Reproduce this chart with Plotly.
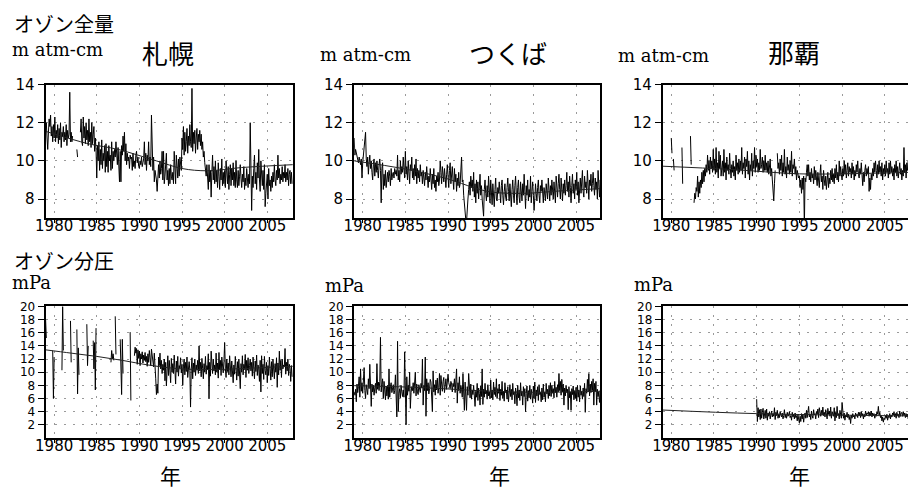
import plotly.graph_objects as go

START_YEAR = 1979

# ---------------- total ozone (m atm-cm), monthly from Jan 1979 ----------------
sapporo_total = [
    11.6, 12.0, 11.2, 10.6, 11.5, 12.2, 11.8, 12.4, 11.3, 11.8, 11.0, 11.9,  # 1979
    11.2, 12.3, 11.0, 11.6, 11.2, 11.9, 10.9, 11.7, 11.1, 12.0, 10.7, 11.5,  # 1980
    11.3, 11.8, 11.0, 11.5, 11.1, 11.9, 10.8, 11.6, 11.2, 11.4, 13.6, 11.0,  # 1981
    11.5, 11.0, 11.3, None, None, None, None, None, 10.6, 10.2, None, None,  # 1982
    None, 11.5, 12.2, 11.0, 10.8, 12.3, 11.2, 11.8, 10.9, 12.0, 11.1, 11.6,  # 1983
    10.8, 12.2, 11.0, 11.5, 10.7, 12.0, 10.9, 11.4, 11.8, 10.5, 11.2, 10.6,  # 1984
    9.1, 10.8, 10.0, 11.0, 9.5, 10.6, 9.8, 11.1, 9.6, 10.4, 10.0, 10.8,      # 1985
    9.4, 10.9, 9.7, 10.5, 9.4, 10.8, 10.0, 10.3, 9.5, 11.0, 9.6, 10.5,       # 1986
    10.0, 10.6, 10.2, 11.0, 10.3, 9.8, 10.7, 9.5, 8.9, 10.5, 8.9, 10.8,      # 1987
    10.3, 11.3, 10.5, 11.5, 10.0, 10.9, 9.8, 10.4, 10.0, 10.2, 9.6, 10.3,    # 1988
    10.1, 10.2, 9.5, 10.4, 9.7, 10.0, 9.6, 10.3, 10.5, 9.9, 10.2, 9.7,       # 1989
    9.6, 10.0, 9.8, 10.2, 9.7, 9.9, 10.1, 11.0, 9.8, 10.4, 9.5, 10.3,        # 1990
    10.0, 11.0, 9.8, 10.2, 9.7, 12.4, 10.5, 9.5, 10.2, 8.9, 9.5, 9.3,        # 1991
    9.0, 8.4, 9.5, 9.8, 9.1, 10.0, 9.3, 9.6, 10.5, 9.0, 10.5, 8.8,          # 1992
    9.2, 9.7, 10.4, 9.0, 9.5, 8.7, 9.6, 8.8, 9.8, 9.2, 9.0, 9.4,            # 1993
    8.8, 10.5, 9.4, 8.8, 10.3, 9.5, 9.1, 10.1, 9.2, 10.2, 9.7, 9.5,         # 1994
    11.2, 10.6, 11.8, 10.3, 11.5, 10.5, 11.0, 11.7, 10.4, 11.3, 10.8, 11.9,  # 1995
    11.0, 10.7, 13.8, 10.5, 11.5, 10.9, 11.6, 10.4, 11.2, 11.7, 10.6, 11.4,  # 1996
    11.0, 11.6, 10.8, 11.4, 10.6, 11.0, 10.2, 10.5, 9.9, 9.6, 9.2, 9.8,      # 1997
    9.0, 8.5, 9.8, 8.9, 9.5, 8.1, 9.4, 10.3, 9.0, 9.7, 8.8, 10.0,           # 1998
    8.9, 9.5, 8.6, 9.9, 9.2, 8.5, 9.6, 9.0, 10.1, 8.7, 9.4, 8.8,            # 1999
    9.5, 8.6, 10.0, 9.1, 8.8, 9.7, 8.5, 9.3, 9.8, 8.7, 9.6, 9.0,            # 2000
    9.9, 8.7, 9.4, 8.6, 10.0, 9.0, 8.6, 9.5, 8.7, 9.2, 9.8, 9.1,            # 2001
    8.6, 9.3, 8.9, 9.7, 8.5, 9.1, 8.7, 9.6, 9.0, 8.6, 9.3, 8.8,             # 2002
    12.0, 8.9, 7.4, 9.2, 8.6, 9.6, 10.3, 8.8, 9.4, 8.5, 9.9, 9.1,           # 2003
    10.6, 9.0, 8.4, 10.0, 9.2, 8.7, 9.5, 8.5, 9.8, 7.6, 8.3, 8.9,           # 2004
    9.3, 8.0, 9.6, 8.7, 9.0, 8.4, 9.2, 8.6, 9.4, 8.9, 9.8, 9.0,             # 2005
    8.7, 9.5, 9.0, 10.3, 9.1, 9.6, 8.8, 9.3, 9.0, 9.7, 8.9, 9.4,            # 2006
    9.1, 9.8, 8.9, 9.4, 9.0, 9.6, 8.7, 9.3, 9.5, 8.8, 9.4, 8.8,             # 2007
]

tsukuba_total = [
    11.2, 10.3, 10.6, 10.4, 10.2, 10.1, 9.9, 10.2, 10.0, 9.8, 10.1, 9.1,    # 1979
    9.9, 10.4, 10.8, 11.0, 11.5, 10.1, 9.7, 10.2, 9.3, 9.9, 10.3, 9.6,      # 1980
    10.0, 9.4, 9.0, 9.8, 10.1, 9.2, 9.9, 9.4, 10.0, 9.5, 9.1, 9.8,         # 1981
    10.1, 9.5, 7.8, 9.6, 9.9, 8.5, 9.3, 8.7, 9.5, 8.6, 9.0, 9.4,           # 1982
    8.9, 9.5, 9.2, 8.7, 9.6, 9.0, 9.3, 9.4, 9.1, 9.6, 9.3, 9.5,            # 1983
    9.2, 10.3, 9.0, 9.5, 8.9, 10.0, 9.3, 9.7, 9.4, 10.2, 9.6, 9.1,         # 1984
    10.5, 9.3, 9.7, 9.0, 10.0, 9.4, 8.8, 9.8, 9.5, 10.2, 9.1, 9.6,         # 1985
    9.0, 9.8, 9.2, 10.1, 8.8, 9.6, 9.1, 9.5, 8.9, 9.8, 9.2, 9.4,           # 1986
    8.8, 9.5, 9.1, 8.7, 9.4, 9.0, 9.7, 9.3, 8.6, 9.2, 8.9, 9.6,            # 1987
    9.1, 8.5, 9.3, 8.8, 9.6, 8.6, 9.0, 8.4, 9.2, 8.9, 9.4, 8.7,            # 1988
    9.0, 10.0, 9.4, 8.8, 9.7, 9.2, 8.9, 9.6, 9.0, 8.6, 9.3, 9.8,           # 1989
    9.2, 8.6, 9.5, 9.9, 8.8, 9.4, 9.7, 9.0, 8.5, 9.6, 8.9, 9.3,            # 1990
    8.4, 9.1, 8.7, 9.4, 8.6, 8.8, 9.3, 10.2, 8.9, 9.0, 8.2, 7.6,           # 1991
    7.4, 6.9, 6.8, 7.2, 8.0, 8.5, 8.9, 8.2, 9.2, 8.6, 9.0, 8.4,            # 1992
    9.4, 8.1, 8.8, 7.8, 9.0, 8.3, 8.9, 8.0, 8.6, 9.3, 8.2, 8.7,            # 1993
    8.0, 7.6, 7.1, 8.5, 9.0, 8.3, 7.9, 8.7, 8.1, 9.2, 8.4, 7.8,            # 1994
    9.0, 8.2, 7.7, 8.8, 8.3, 7.6, 8.5, 9.1, 8.0, 7.9, 8.6, 8.3,            # 1995
    8.9, 8.0, 7.8, 8.7, 9.0, 8.2, 7.7, 8.4, 8.8, 8.1, 7.9, 8.6,            # 1996
    9.1, 8.4, 7.9, 8.8, 8.0, 7.6, 8.5, 9.0, 8.2, 7.8, 8.7, 9.2,            # 1997
    8.3, 7.7, 8.6, 9.0, 8.1, 7.8, 8.9, 8.4, 7.9, 8.8, 8.2, 9.3,            # 1998
    8.0, 7.5, 8.7, 8.2, 9.0, 7.9, 8.5, 8.1, 9.2, 7.8, 8.4, 8.9,            # 1999
    8.2, 7.4, 8.0, 8.8, 8.3, 7.9, 8.6, 9.0, 8.2, 7.8, 8.7, 8.4,            # 2000
    9.0, 8.3, 7.8, 8.6, 8.1, 7.9, 8.8, 8.4, 8.0, 9.1, 8.3, 7.9,            # 2001
    8.7, 8.2, 9.0, 8.5, 8.0, 8.9, 8.3, 7.8, 9.2, 8.4, 8.1, 8.8,            # 2002
    9.3, 8.5, 8.0, 9.1, 8.4, 7.9, 8.8, 8.3, 9.0, 8.2, 8.7, 9.4,            # 2003
    8.4, 8.9, 8.1, 9.2, 8.6, 7.8, 8.7, 9.3, 8.3, 8.8, 8.0, 9.0,            # 2004
    8.5, 9.4, 8.2, 8.9, 7.8, 8.6, 9.1, 8.3, 8.7, 9.5, 8.4, 8.1,            # 2005
    9.2, 8.6, 8.9, 8.3, 9.5, 8.5, 8.0, 9.0, 8.7, 9.3, 8.4, 8.8,            # 2006
    9.4, 8.7, 8.2, 9.1, 8.5, 8.9, 8.0, 9.5, 8.6, 8.1, 9.0, 8.4,            # 2007
]

naha_total = [
    None, None, None, None, None, None, None, None, None, None, None, None,  # 1979
    11.2, 10.4, None, 10.1, 9.5, None, None, None, None, None, None, None,  # 1980
    None, None, None, 10.7, 8.8, None, None, None, None, None, None, None,  # 1981
    None, None, None, 11.3, 9.8, None, None, None, 7.8, 8.3, 8.0, 8.6,      # 1982
    8.4, 9.2, 8.1, 8.9, 8.3, 9.0, 8.6, 9.4, 8.8, 9.5, 8.9, 9.6,            # 1983
    9.2, 9.8, 9.4, 10.3, 9.5, 10.0, 9.3, 10.2, 9.6, 10.0, 9.4, 10.6,       # 1984
    9.5, 10.1, 9.3, 10.7, 9.4, 9.9, 9.1, 10.5, 9.6, 10.3, 9.2, 9.8,        # 1985
    10.0, 9.2, 10.6, 9.4, 9.9, 9.0, 10.2, 9.5, 9.8, 9.3, 10.4, 9.6,        # 1986
    9.1, 9.8, 9.4, 10.0, 9.2, 9.7, 9.0, 10.3, 9.5, 9.9, 9.3, 10.1,         # 1987
    9.4, 10.0, 9.5, 10.7, 9.3, 9.9, 9.6, 10.2, 9.1, 10.1, 9.7, 10.5,       # 1988
    9.3, 10.0, 9.0, 9.8, 9.5, 10.4, 9.2, 10.0, 9.6, 10.7, 9.4, 10.3,       # 1989
    9.7, 10.1, 9.4, 9.9, 9.5, 10.6, 9.6, 9.8, 10.2, 9.4, 10.0, 9.5,        # 1990
    10.3, 9.5, 9.9, 9.4, 10.0, 9.3, 9.8, 10.1, 9.2, 9.6, 9.0, 8.4,         # 1991
    7.9, 8.8, 9.5, None, None, 10.4, 9.6, 9.9, 9.3, 10.1, 9.5, 10.3,       # 1992
    9.2, 9.9, 9.4, 10.6, 9.3, 9.7, 9.1, 10.2, 9.5, 9.8, 9.3, 10.0,         # 1993
    9.4, 10.5, 9.2, 9.8, 9.6, 10.1, 9.3, 9.7, 9.0, 9.5, 9.3, 9.1,          # 1994
    9.2, 8.6, 9.0, 8.3, 9.1, 8.5, 9.2, 6.5, 9.1, 8.9, 9.4, 9.8,            # 1995
    9.2, 9.8, 9.0, 9.4, 8.9, 9.6, 9.1, 9.3, 8.8, 9.7, 9.0, 9.5,            # 1996
    9.1, 8.7, 9.4, 9.0, 8.6, 9.3, 9.8, 8.9, 9.2, 8.5, 9.5, 9.0,            # 1997
    8.7, 9.2, 8.5, 9.0, 9.4, 8.6, 9.1, 8.8, 9.5, 9.0, 9.6, 8.9,            # 1998
    9.3, 8.8, 9.6, 9.1, 9.8, 9.0, 9.4, 8.9, 10.0, 9.2, 9.7, 9.3,           # 1999
    9.0, 9.6, 9.2, 10.0, 9.3, 9.8, 9.1, 9.5, 9.9, 9.2, 9.7, 9.4,           # 2000
    9.6, 9.1, 9.9, 9.3, 9.7, 9.0, 9.5, 9.2, 9.8, 9.4, 10.0, 9.3,           # 2001
    9.1, 9.6, 9.3, 9.9, 9.0, 8.7, 9.4, 8.9, 9.5, 9.8, 9.2, 9.6,            # 2002
    9.3, 9.7, 8.4, 9.1, 8.5, 9.3, 9.0, 9.6, 9.2, 9.9, 9.4, 10.0,           # 2003
    9.5, 9.1, 9.8, 9.3, 10.0, 9.4, 9.7, 9.2, 9.9, 9.0, 9.6, 9.3,           # 2004
    9.8, 9.2, 10.0, 9.4, 9.6, 9.1, 9.9, 9.3, 10.0, 9.4, 9.7, 9.2,          # 2005
    9.6, 9.0, 9.8, 9.4, 10.0, 9.2, 9.7, 9.1, 9.5, 9.9, 9.3, 9.6,           # 2006
    9.0, 9.5, 9.2, 10.7, 9.4, 9.8, 9.1, 9.9, 9.5, 10.0, 9.6, 9.3,          # 2007
]

# ---------------- ozone partial pressure (mPa), monthly from Jan 1979 ----------------
sapporo_pp = [
    18.0, 15.2, None, None, None, None, None, None, None, None, 13.3, 6.0,   # 1979
    12.3, None, None, None, None, None, None, None, None, None, None, 10.3,  # 1980
    20.0, 13.3, None, None, None, None, None, None, None, None, None, 17.8,  # 1981
    11.5, None, None, None, None, None, None, None, 16.5, 6.7, 13.7, 9.6,    # 1982
    None, None, None, None, None, None, None, None, None, None, 17.3, 11.0,  # 1983
    14.0, None, None, None, None, None, None, 14.8, 10.5, 14.5, 7.3, 16.7,   # 1984
    None, None, None, None, None, None, None, None, None, None, None, None,  # 1985
    None, None, None, None, None, None, None, None, 11.5, 13.3, 12.0, 12.8,  # 1986
    11.8, None, 18.5, 12.7, None, None, None, None, None, 15.0, 10.2, 6.6,   # 1987
    15.0, 9.8, None, None, None, None, None, None, None, None, None, 16.1,   # 1988
    5.7, None, None, None, None, 12.5, 13.8, 12.9, 13.6, 11.2, 13.4, 12.1,   # 1989
    13.2, 11.0, 12.8, 12.0, 13.1, 11.4, 12.6, 11.8, 13.0, 11.6, 12.4, 10.9,  # 1990
    12.8, 11.5, 13.3, 12.2, 11.0, 13.5, 12.3, 11.7, 10.8, 12.9, 11.4, 9.0,   # 1991
    6.6, 8.2, 6.8, 12.3, 11.0, 12.9, 10.5, 11.8, 9.8, 11.2, 10.3, 12.0,      # 1992
    8.7, 11.5, 7.9, 10.9, 12.5, 9.5, 11.8, 10.2, 8.4, 12.1, 10.0, 11.3,      # 1993
    9.8, 12.6, 10.4, 8.2, 11.7, 10.0, 12.4, 9.4, 11.0, 10.6, 12.2, 9.9,      # 1994
    11.2, 8.0, 10.8, 12.0, 9.6, 11.5, 10.1, 12.3, 9.2, 10.9, 11.6, 10.3,     # 1995
    4.7, 10.5, 12.2, 9.0, 11.4, 10.0, 12.0, 9.5, 11.1, 10.3, 11.8, 9.8,      # 1996
    14.0, 10.2, 11.5, 9.3, 12.1, 10.6, 9.0, 11.3, 10.0, 12.4, 9.7, 11.0,     # 1997
    10.4, 12.8, 6.0, 11.5, 9.4, 13.2, 10.6, 9.8, 12.0, 10.2, 11.1, 9.6,      # 1998
    12.9, 10.0, 11.4, 9.1, 13.0, 10.4, 11.8, 9.5, 12.3, 10.8, 9.9, 11.6,     # 1999
    14.5, 10.6, 9.2, 12.0, 10.1, 11.4, 9.6, 12.5, 10.8, 9.3, 11.7, 10.4,     # 2000
    8.4, 11.1, 9.7, 12.4, 10.2, 8.8, 11.6, 9.4, 12.0, 10.5, 7.5, 11.3,       # 2001
    10.0, 12.5, 9.6, 11.2, 10.4, 12.7, 9.2, 11.8, 10.3, 12.2, 9.8, 11.0,     # 2002
    12.0, 10.2, 11.5, 9.4, 12.3, 10.6, 9.0, 11.7, 10.1, 12.6, 9.5, 11.1,     # 2003
    10.5, 8.6, 11.8, 7.0, 12.5, 9.8, 11.2, 8.9, 12.4, 10.3, 9.6, 11.5,       # 2004
    8.4, 11.0, 9.5, 12.3, 10.1, 8.8, 11.6, 9.3, 12.0, 10.4, 9.0, 11.3,       # 2005
    10.0, 12.2, 7.7, 11.4, 9.6, 13.2, 10.3, 11.8, 9.2, 12.0, 10.5, 11.1,     # 2006
    10.8, 13.6, 9.7, 11.5, 10.2, 12.0, 9.5, 11.2, 10.6, 8.6, 11.0, 9.3,      # 2007
]

tsukuba_pp = [
    7.0, 6.5, 7.4, 5.5, 8.2, 6.9, 7.8, 9.3, 6.2, 10.5, 7.1, 8.4,     # 1979
    6.8, 9.6, 10.7, 7.2, 6.0, 8.1, 7.4, 6.6, 9.0, 7.5, 11.2, 6.9,    # 1980
    4.8, 8.2, 7.0, 8.0, 6.5, 7.6, 8.3, 6.8, 11.3, 7.4, 8.5, 7.2,     # 1981
    8.6, 15.3, 7.0, 8.2, 9.0, 6.0, 8.6, 7.3, 5.8, 7.9, 6.4, 8.0,     # 1982
    5.9, 10.5, 6.2, 7.8, 8.4, 6.9, 7.5, 8.1, 6.7, 7.2, 9.6, 6.4,     # 1983
    3.2, 14.7, 4.0, 6.8, 7.5, 6.1, 8.0, 7.0, 6.3, 7.3, 6.2, 13.1,    # 1984
    6.0, 2.0, 9.3, 6.5, 8.0, 7.1, 10.0, 4.5, 6.9, 7.8, 7.2, 8.4,     # 1985
    6.8, 7.9, 10.0, 6.4, 8.2, 7.0, 6.6, 8.1, 7.4, 6.9, 8.3, 7.6,     # 1986
    12.0, 5.0, 8.0, 7.2, 12.3, 3.3, 9.0, 7.2, 8.4, 6.7, 7.5, 8.9,    # 1987
    8.5, 7.0, 4.0, 10.2, 7.0, 8.1, 6.5, 8.8, 7.3, 9.1, 6.8, 7.7,     # 1988
    9.8, 6.5, 9.5, 8.2, 7.1, 8.6, 9.2, 6.9, 8.0, 9.0, 7.4, 8.3,      # 1989
    9.7, 8.4, 8.1, 7.5, 8.6, 8.2, 7.0, 8.3, 7.8, 9.0, 6.9, 8.1,      # 1990
    10.5, 5.3, 8.4, 7.2, 9.3, 6.8, 8.0, 7.4, 6.2, 9.8, 7.1, 4.2,     # 1991
    8.5, 6.0, 4.2, 7.8, 6.5, 9.8, 7.0, 6.1, 8.2, 5.9, 7.3, 6.6,      # 1992
    8.0, 5.5, 4.8, 7.1, 6.2, 8.3, 5.7, 7.6, 6.8, 5.0, 7.9, 6.3,      # 1993
    10.5, 5.1, 7.4, 6.2, 8.3, 6.7, 7.2, 5.9, 8.1, 6.4, 7.0, 6.0,     # 1994
    8.8, 6.1, 7.3, 5.8, 8.5, 6.6, 7.7, 6.3, 9.0, 6.0, 7.5, 6.8,      # 1995
    8.2, 5.7, 7.4, 6.5, 8.6, 6.0, 7.1, 5.6, 8.4, 6.9, 7.3, 5.9,      # 1996
    7.8, 5.5, 6.9, 8.1, 6.3, 7.4, 5.8, 8.3, 6.6, 7.0, 5.2, 7.6,      # 1997
    6.8, 4.9, 8.0, 6.1, 7.3, 5.7, 8.4, 6.4, 7.1, 5.0, 7.8, 6.3,      # 1998
    7.5, 4.0, 6.8, 7.9, 5.6, 7.2, 6.1, 8.0, 5.9, 7.4, 6.5, 5.3,      # 1999
    7.9, 6.0, 8.5, 5.4, 7.3, 6.4, 7.8, 5.7, 8.1, 6.6, 7.0, 5.5,      # 2000
    7.6, 5.8, 8.2, 6.2, 7.0, 5.5, 8.3, 6.7, 7.4, 6.0, 8.0, 6.4,      # 2001
    8.4, 6.3, 8.0, 6.8, 7.5, 6.1, 8.6, 6.9, 7.7, 6.2, 8.1, 7.0,      # 2002
    9.8, 7.2, 8.6, 6.5, 8.9, 7.0, 8.2, 5.0, 7.6, 6.4, 8.0, 6.9,      # 2003
    7.4, 4.3, 7.8, 6.1, 7.0, 4.2, 7.5, 6.6, 7.9, 5.8, 7.2, 6.0,      # 2004
    7.7, 5.6, 8.0, 6.2, 7.3, 5.5, 7.9, 6.5, 7.1, 5.9, 7.6, 6.3,      # 2005
    8.3, 3.9, 7.5, 6.8, 8.9, 7.0, 9.8, 6.4, 8.2, 6.9, 8.6, 7.2,      # 2006
    9.0, 5.0, 8.3, 7.1, 8.6, 5.0, 7.4, 6.3, 7.0, 5.4, 7.2, 6.5,      # 2007
]

naha_pp = [None] * 132 + [
    5.9, 2.5, 4.6, 3.2, 4.3, 2.8, 4.4, 3.0, 3.9, 4.5, 2.9, 3.6,   # 1990
    4.2, 3.0, 4.4, 2.7, 3.8, 3.3, 4.0, 2.9, 3.5, 4.1, 3.2, 3.7,   # 1991
    3.3, 4.6, 2.8, 3.9, 3.4, 4.2, 3.0, 3.6, 3.1, 4.0, 3.5, 3.2,   # 1992
    3.8, 2.9, 3.4, 4.3, 3.1, 3.6, 3.0, 3.9, 3.3, 3.5, 4.0, 3.1,   # 1993
    3.4, 2.7, 3.9, 3.2, 3.6, 2.9, 3.8, 3.1, 3.4, 2.6, 3.5, 3.0,   # 1994
    2.3, 3.3, 2.5, 3.7, 2.9, 3.6, 2.4, 3.4, 3.8, 3.0, 4.2, 3.1,   # 1995
    3.9, 4.8, 3.2, 3.6, 2.8, 4.1, 3.4, 3.0, 4.3, 3.5, 3.7, 2.9,   # 1996
    4.0, 3.6, 4.4, 3.1, 4.6, 3.8, 3.3, 4.2, 3.5, 4.7, 3.4, 3.9,   # 1997
    3.2, 4.3, 3.7, 2.9, 4.5, 3.6, 4.1, 3.3, 4.7, 3.0, 4.0, 3.5,   # 1998
    3.3, 4.6, 2.6, 3.9, 3.1, 4.8, 3.4, 3.7, 2.9, 4.2, 3.5, 3.0,   # 1999
    5.4, 3.4, 3.0, 3.8, 2.7, 3.5, 3.2, 3.9, 3.1, 3.6, 2.8, 3.3,   # 2000
    2.2, 3.5, 3.0, 3.7, 3.2, 3.4, 2.9, 3.8, 3.3, 3.6, 3.1, 3.9,   # 2001
    3.4, 3.9, 3.1, 4.0, 3.3, 3.7, 2.9, 3.6, 3.2, 4.1, 3.5, 3.8,   # 2002
    3.6, 4.0, 3.3, 3.9, 3.5, 4.1, 3.2, 3.8, 3.4, 3.7, 3.0, 3.6,   # 2003
    3.3, 4.0, 3.6, 4.8, 3.5, 3.9, 3.1, 3.4, 2.6, 3.2, 2.4, 3.0,   # 2004
    2.8, 3.4, 3.0, 3.6, 2.7, 3.3, 3.1, 3.7, 2.9, 3.5, 3.2, 3.8,   # 2005
    3.5, 4.0, 3.2, 3.7, 3.0, 3.9, 3.4, 3.6, 3.1, 4.1, 3.3, 3.8,   # 2006
    3.9, 3.3, 4.0, 3.4, 3.8, 3.1, 3.7, 3.2, 3.6, 2.9, 3.5, 3.3,   # 2007
]

# ---------------- trend curves (year, value) ----------------
sapporo_total_trend_x = [1979, 1984, 1987.5, 1992, 1995, 1998, 2002, 2008]
sapporo_total_trend_y = [11.55, 10.9, 10.6, 10.0, 9.6, 9.48, 9.65, 9.8]
tsukuba_total_trend_x = [1979, 1985, 1990, 1993, 1995, 1999, 2003, 2008]
tsukuba_total_trend_y = [10.0, 9.57, 9.05, 8.6, 8.37, 8.3, 8.42, 8.55]
naha_total_trend_x = [1979, 1987, 1995, 2001, 2008]
naha_total_trend_y = [9.72, 9.55, 9.32, 9.33, 9.4]
sapporo_pp_trend_x = [1979, 1982, 1985, 1988, 1991, 1994, 1997, 2000, 2003, 2006, 2008]
sapporo_pp_trend_y = [13.4, 12.9, 12.4, 11.8, 11.1, 10.6, 10.4, 10.45, 10.6, 10.8, 10.9]
tsukuba_pp_trend_x = [1979, 1985, 1990, 1995, 2000, 2004, 2008]
tsukuba_pp_trend_y = [7.95, 7.75, 7.45, 7.1, 6.95, 7.0, 7.1]
naha_pp_trend_x = [1979, 1990, 2008]
naha_pp_trend_y = [4.25, 3.7, 3.35]

year_ticks = [1980, 1985, 1990, 1995, 2000, 2005]
total_ticks = [8, 10, 12, 14]
pp_ticks = [2, 4, 6, 8, 10, 12, 14, 16, 18, 20]

stations = ["札幌", "つくば", "那覇"]

W, H = 908, 490

def months(series):
    return [START_YEAR + i / 12 for i in range(len(series))]

panels = [
    (sapporo_total, sapporo_total_trend_x, sapporo_total_trend_y),
    (tsukuba_total, tsukuba_total_trend_x, tsukuba_total_trend_y),
    (naha_total, naha_total_trend_x, naha_total_trend_y),
    (sapporo_pp, sapporo_pp_trend_x, sapporo_pp_trend_y),
    (tsukuba_pp, tsukuba_pp_trend_x, tsukuba_pp_trend_y),
    (naha_pp, naha_pp_trend_x, naha_pp_trend_y),
]

# pixel geometry of the panels
col_px = [(36, 286, 2008.0), (348, 596.5, 2007.8), (660, 908, 2007.72)]
row_px = [(77, 213), (303, 437)]

fig = go.Figure()
layout = dict(
    width=W, height=H, margin=dict(l=0, r=0, t=0, b=0),
    paper_bgcolor="white", plot_bgcolor="white", showlegend=False,
    font=dict(family="DejaVu Sans", color="black"),
)

GRID = dict(showgrid=True, gridcolor="#9a9a9a", griddash="2px,7px", gridwidth=1)

for k, (data, tx, ty) in enumerate(panels):
    r, c = divmod(k, 3)
    n = k + 1
    xa = "x" if n == 1 else f"x{n}"
    ya = "y" if n == 1 else f"y{n}"
    fig.add_trace(go.Scatter(x=months(data), y=data, mode="lines",
                             line=dict(color="black", width=1),
                             xaxis=xa, yaxis=ya, connectgaps=False))
    fig.add_trace(go.Scatter(x=tx, y=ty, mode="lines", line=dict(color="#222", width=1),
                             line_shape="spline", xaxis=xa, yaxis=ya))
    x0, x1, xmax = col_px[c]
    y0, y1 = row_px[r]
    layout["xaxis" if n == 1 else f"xaxis{n}"] = dict(
        domain=[x0 / W, min(1.0, x1 / W)], range=[1979, xmax], anchor=ya,
        tickvals=year_ticks, ticktext=[str(v) for v in year_ticks],
        ticks="outside", ticklen=3, tickwidth=1, tickcolor="black",
        ticklabelstandoff=-10,
        showline=True, linewidth=2, linecolor="black", mirror=True,
        zeroline=False, tickfont=dict(size=15, family="DejaVu Sans", color="black"),
        **GRID,
    )
    if r == 0:
        yrange, yt, yfs = [7, 14], total_ticks, 15
    else:
        yrange, yt, yfs = [0, 20], pp_ticks, 12
    layout["yaxis" if n == 1 else f"yaxis{n}"] = dict(
        domain=[1 - y1 / H, 1 - y0 / H], range=yrange, anchor=xa,
        tickvals=yt, ticktext=[str(v) for v in yt],
        ticks="outside", ticklen=6, tickwidth=1, tickcolor="black",
        showline=True, linewidth=2, linecolor="black", mirror=(c != 2),
        zeroline=False, tickfont=dict(size=yfs, family="DejaVu Sans", color="black"),
        **GRID,
    )

fig.update_layout(**layout)

def ann(text, xpx, ypx, size, family, xanchor="left"):
    fig.add_annotation(text=text, x=xpx / W, y=1 - ypx / H, xref="paper", yref="paper",
                       xanchor=xanchor, yanchor="middle", showarrow=False,
                       font=dict(size=size, family=family, color="black"))

cjk = "Noto Sans CJK JP"
serif = "DejaVu Serif"
ann("オゾン全量", 2, 15, 20, cjk)
ann("m atm-cm", 0, 41, 18, serif)
ann("m atm-cm", 311, 46, 18, serif)
ann("m atm-cm", 613, 47, 18, serif)
ann(stations[0], 160, 44, 26, cjk, "center")
ann(stations[1], 504, 44, 26, cjk, "center")
ann(stations[2], 793, 43, 26, cjk, "center")
ann("オゾン分圧", 2, 256, 20, cjk)
ann("mPa", 0, 279, 18, serif)
ann("mPa", 316, 282, 18, serif)
ann("mPa", 629, 281, 18, serif)
for xc in (162, 495, 798):
    ann("年", xc, 475, 21, cjk, "center")

fig.write_html("out.html")
